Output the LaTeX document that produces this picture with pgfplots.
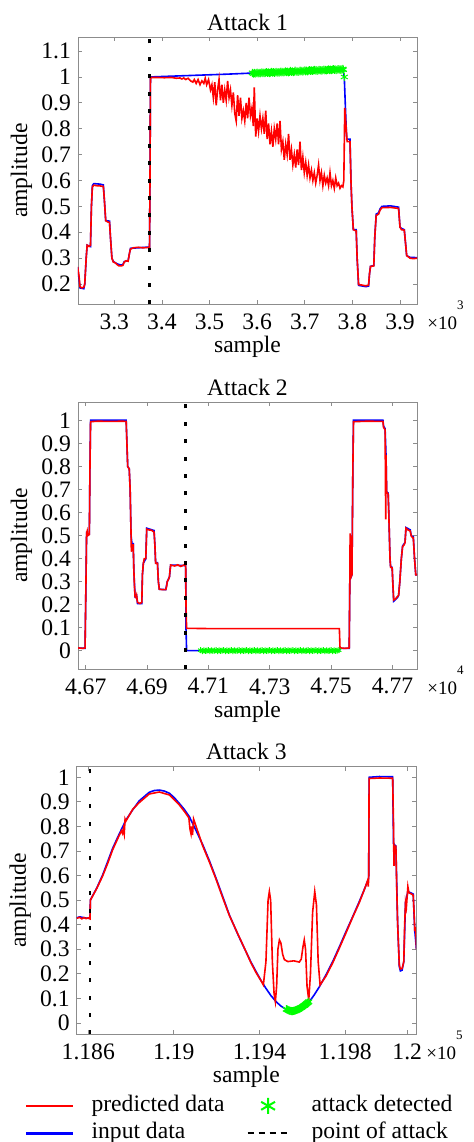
\documentclass[border=0pt]{standalone}
\usepackage{pgfplots}
\pgfplotsset{compat=1.18}
\usepackage{fontspec}
\setmainfont{Liberation Serif}

\newcommand{\lbl}{\fontsize{11.8}{13.5}\selectfont}

\pgfplotsset{
  attackax/.style={
    scale only axis,
    width=169.5pt, height=133.6pt,
    font=\lbl,
    axis line style={black!45},
    every tick/.style={black!45, line width=0.4pt},
    major tick length=2pt,
    tick align=inside,
    xtick pos=both, ytick pos=both,
    xticklabel pos=bottom, yticklabel pos=left,
    scaled x ticks=false,
    /pgf/number format/assume math mode=true,
    tick label style={font=\lbl},
    xticklabel style={yshift=-1pt},
    every axis title shift=0pt,
    title style={font=\lbl, anchor=base, at={(axis description cs:0.5,1)}, yshift=3.5pt, inner sep=0pt},
    xlabel style={font=\lbl, anchor=base, at={(axis description cs:0.5,0)}, yshift=-24pt, inner sep=0pt},
    ylabel style={font=\lbl, anchor=base, at={(axis description cs:-0.150,0.5)}, inner sep=0pt},
    xlabel={sample}, ylabel={amplitude},
  },
  pred/.style={red, line width=0.8pt},
  inp/.style={blue, line width=0.8pt},
  det/.style={green, only marks, mark=asterisk, mark size=2pt, line width=0.5pt},
  poa/.style={black, line width=1.2pt, dash pattern=on 2pt off 6.7pt},
  leglong/.style={legend image code/.code={\draw[##1] (0pt,0pt) -- (23.5pt,0pt);}},
  legshort/.style={legend image code/.code={\draw[##1] (0pt,0pt) -- (20.5pt,0pt);}},
  legmark/.style={legend image code/.code={\draw[##1] plot coordinates {(10.25pt,0pt)};}},
}

\newcommand{\tenpow}[1]{\node[font=\fontsize{9.5}{11}\selectfont, anchor=base west, inner sep=0pt] at ([xshift=5pt,yshift=-12.8pt]rel axis cs:1,0) {×10\raisebox{10pt}{\fontsize{6.5}{7}\selectfont #1}};}

\begin{document}
\begin{tikzpicture}
\useasboundingbox (0,0) rectangle (237pt,-571pt);

% ---------------- Attack 1
\begin{axis}[attackax,
  at={(39pt,-152.15pt)}, anchor=south west,
  title={Attack 1},
  xmin=3223.8, xmax=3935.7, ymin=0.1217, ymax=1.1539,
  xtick={3300,3400,3500,3600,3700,3800,3900},
  xticklabels={3.3,3.4,3.5,3.6,3.7,3.8,3.9},
  ytick={0.2,0.3,0.4,0.5,0.6,0.7,0.8,0.9,1,1.1},
  after end axis/.code={\tenpow{3}},
]
\addplot[inp] table {
3223 0.265
3226 0.22
3228 0.185
3236 0.182
3238 0.20
3241 0.30
3243 0.35
3250 0.345
3252 0.50
3254 0.58
3257 0.588
3270 0.586
3277 0.583
3279 0.53
3282 0.445
3290 0.443
3292 0.38
3295 0.30
3298 0.287
3306 0.278
3314 0.273
3318 0.275
3321 0.287
3329 0.29
3332 0.32
3334 0.338
3374 0.343
3375 0.6
3376 1.0
3420 1.003
3480 1.007
3540 1.011
3590 1.015
3640 1.019
3700 1.024
3780 1.029
3783 1.0
3785 0.90
3788 0.76
3795 0.76
3797 0.60
3799 0.50
3802 0.41
3808 0.41
3810 0.30
3813 0.195
3828 0.19
3834 0.192
3836 0.24
3838 0.268
3845 0.272
3847 0.38
3850 0.47
3855 0.475
3858 0.49
3862 0.50
3880 0.502
3897 0.497
3900 0.42
3903 0.415
3909 0.41
3912 0.35
3914 0.31
3921 0.303
3936 0.302
};
\addplot[pred] table {
3223 0.267
3226 0.23
3228 0.19
3232 0.185
3236 0.188
3238 0.20
3241 0.30
3243 0.35
3247 0.345
3250 0.35
3252 0.50
3254 0.575
3257 0.582
3262 0.58
3270 0.579
3277 0.577
3279 0.53
3282 0.445
3286 0.44
3290 0.438
3292 0.38
3295 0.30
3298 0.285
3302 0.282
3306 0.275
3310 0.27
3314 0.27
3318 0.272
3321 0.285
3325 0.29
3329 0.288
3332 0.32
3334 0.335
3340 0.34
3350 0.342
3360 0.34
3370 0.341
3374 0.342
3375 0.6
3376 0.998
3390 0.998
3405 0.997
3420 0.998
3430 0.995
3438 0.996
3442 0.992
3446 0.996
3450 0.99
3455 0.995
3460 0.985
3465 0.98
3468 0.99
3472 0.975
3476 0.99
3480 0.97
3484 0.985
3488 0.975
3491 0.995
3494 0.97
3498 0.99
3502 0.95
3505 0.97
3508 0.92
3511 0.98
3514 0.89
3517 0.95
3520 0.99
3523 0.91
3526 0.97
3529 0.90
3532 0.95
3535 0.91
3538 0.985
3541 0.92
3544 0.95
3547 0.89
3550 0.94
3553 0.86
3556 0.83
3559 0.93
3562 0.85
3565 0.92
3568 0.84
3571 0.87
3574 0.83
3577 0.90
3580 0.84
3583 0.92
3586 0.85
3589 0.88
3592 0.81
3594 0.96
3597 0.77
3600 0.84
3603 0.79
3606 0.85
3609 0.80
3612 0.84
3615 0.78
3618 0.87
3621 0.76
3624 0.82
3627 0.74
3630 0.79
3633 0.73
3636 0.80
3639 0.76
3642 0.82
3645 0.74
3648 0.83
3651 0.72
3654 0.75
3657 0.68
3660 0.74
3663 0.70
3666 0.78
3669 0.68
3672 0.72
3675 0.66
3678 0.70
3681 0.65
3684 0.72
3687 0.66
3690 0.75
3693 0.64
3696 0.69
3699 0.63
3702 0.67
3705 0.62
3708 0.66
3711 0.61
3714 0.64
3717 0.60
3720 0.63
3723 0.59
3726 0.62
3729 0.66
3732 0.60
3735 0.63
3738 0.58
3741 0.62
3744 0.59
3747 0.61
3750 0.58
3753 0.63
3756 0.58
3759 0.60
3762 0.57
3765 0.61
3768 0.58
3771 0.59
3774 0.57
3777 0.58
3780 0.575
3782 0.60
3784 0.88
3787 0.80
3789 0.75
3795 0.75
3797 0.60
3799 0.50
3802 0.41
3808 0.405
3810 0.30
3813 0.198
3820 0.196
3828 0.193
3834 0.196
3836 0.24
3838 0.268
3845 0.27
3847 0.38
3850 0.465
3855 0.47
3858 0.485
3862 0.495
3880 0.496
3897 0.492
3900 0.42
3903 0.41
3909 0.408
3912 0.35
3914 0.31
3921 0.30
3928 0.298
3936 0.30
};
\addplot[det] table {
3590 1.016
3592 1.013
3594 1.016
3596 1.013
3598 1.015
3600 1.017
3602 1.014
3604 1.016
3606 1.014
3608 1.016
3610 1.018
3612 1.015
3614 1.017
3616 1.015
3618 1.017
3620 1.019
3622 1.016
3624 1.018
3626 1.015
3628 1.017
3630 1.020
3632 1.017
3634 1.019
3636 1.016
3638 1.018
3640 1.020
3642 1.017
3644 1.019
3646 1.017
3648 1.019
3650 1.021
3652 1.018
3654 1.020
3656 1.018
3658 1.020
3660 1.022
3662 1.019
3664 1.021
3666 1.018
3668 1.020
3670 1.023
3672 1.020
3674 1.022
3676 1.019
3678 1.021
3680 1.024
3682 1.021
3684 1.022
3686 1.020
3688 1.022
3690 1.024
3692 1.022
3694 1.023
3696 1.021
3698 1.023
3700 1.025
3702 1.022
3704 1.024
3706 1.022
3708 1.024
3710 1.026
3712 1.023
3714 1.025
3716 1.023
3718 1.025
3720 1.027
3722 1.024
3724 1.026
3726 1.023
3728 1.025
3730 1.027
3732 1.025
3734 1.026
3736 1.024
3738 1.026
3740 1.028
3742 1.025
3744 1.027
3746 1.025
3748 1.027
3750 1.029
3752 1.026
3754 1.028
3756 1.026
3758 1.028
3760 1.030
3762 1.027
3764 1.029
3766 1.026
3768 1.028
3770 1.030
3772 1.028
3774 1.029
3776 1.027
3778 1.029
3780 1.031
3781 1.028
3783 1.000
};
\addplot[poa] coordinates {(3374,0.1217) (3374,1.1539)};
\end{axis}

% ---------------- Attack 2
\begin{axis}[attackax,
  at={(39pt,-334.65pt)}, anchor=south west,
  title={Attack 2},
  xmin=46675, xmax=47780, ymin=-0.081, ymax=1.08,
  xtick={46700,46900,47100,47300,47500,47700},
  xticklabels={4.67,4.69,4.71,4.73,4.75,4.77},
  ytick={0,0.1,0.2,0.3,0.4,0.5,0.6,0.7,0.8,0.9,1},
  after end axis/.code={\tenpow{4}},
]
\addplot[inp] table {
46675 0.012
46698 0.010
46701 0.30
46703 0.51
46707 0.505
46712 0.505
46714 0.80
46716 1.002
46832 1.002
46834 0.92
46837 0.80
46842 0.79
46845 0.70
46848 0.50
46851 0.465
46855 0.465
46857 0.35
46861 0.235
46866 0.24
46869 0.205
46883 0.205
46885 0.33
46888 0.38
46896 0.40
46899 0.532
46923 0.522
46926 0.45
46928 0.382
46934 0.382
46937 0.30
46940 0.267
46961 0.265
46966 0.30
46973 0.32
46977 0.372
47026 0.37
47027 0.10
47029 0.0
47527 0.0
47529 0.010
47559 0.010
47561 0.30
47564 0.40
47565 0.32
47568 0.33
47571 0.80
47573 1.002
47669 1.002
47671 0.975
47676 0.965
47679 0.85
47681 0.69
47686 0.685
47688 0.60
47692 0.40
47694 0.365
47699 0.362
47701 0.30
47704 0.215
47716 0.23
47720 0.24
47724 0.30
47729 0.40
47733 0.455
47741 0.47
47744 0.535
47758 0.525
47761 0.50
47768 0.495
47772 0.40
47776 0.33
47781 0.33
};
\addplot[pred] table {
46675 0.012
46690 0.010
46698 0.012
46701 0.30
46703 0.51
46705 0.52
46707 0.50
46712 0.505
46714 0.80
46716 0.995
46740 0.997
46780 0.996
46820 0.997
46832 0.996
46834 0.92
46837 0.80
46842 0.79
46845 0.70
46848 0.50
46849 0.43
46851 0.46
46855 0.46
46857 0.35
46859 0.28
46861 0.235
46864 0.23
46866 0.24
46869 0.21
46877 0.205
46883 0.21
46885 0.33
46888 0.38
46891 0.40
46896 0.40
46899 0.528
46905 0.525
46915 0.523
46923 0.515
46926 0.45
46928 0.38
46934 0.38
46937 0.30
46940 0.267
46950 0.265
46961 0.265
46964 0.28
46966 0.30
46970 0.31
46973 0.32
46975 0.35
46977 0.372
46990 0.368
47000 0.373
47010 0.366
47020 0.372
47026 0.37
47027 0.20
47029 0.097
47100 0.096
47300 0.096
47527 0.096
47529 0.012
47545 0.010
47559 0.012
47561 0.30
47562 0.51
47564 0.40
47565 0.32
47568 0.33
47571 0.80
47573 0.995
47620 0.997
47669 0.996
47671 0.97
47676 0.96
47678 0.57
47679 0.85
47681 0.69
47686 0.68
47688 0.60
47692 0.40
47694 0.362
47699 0.36
47701 0.30
47704 0.22
47710 0.225
47716 0.235
47720 0.24
47724 0.30
47729 0.40
47733 0.452
47738 0.46
47741 0.47
47744 0.532
47750 0.525
47758 0.52
47761 0.50
47766 0.49
47768 0.49
47772 0.40
47776 0.33
47781 0.33
};
\addplot[det, mark size=1.5pt] table {
47075 0.002
47080 -0.002
47085 0.001
47090 -0.001
47095 0.000
47100 0.002
47105 -0.002
47110 0.001
47115 -0.001
47120 0.000
47125 0.002
47130 -0.002
47135 0.001
47140 -0.001
47145 0.000
47150 0.002
47155 -0.002
47160 0.001
47165 -0.001
47170 0.000
47175 0.002
47180 -0.002
47185 0.001
47190 -0.001
47195 0.000
47200 0.002
47205 -0.002
47210 0.001
47215 -0.001
47220 0.000
47225 0.002
47230 -0.002
47235 0.001
47240 -0.001
47245 0.000
47250 0.002
47255 -0.002
47260 0.001
47265 -0.001
47270 0.000
47275 0.002
47280 -0.002
47285 0.001
47290 -0.001
47295 0.000
47300 0.002
47305 -0.002
47310 0.001
47315 -0.001
47320 0.000
47325 0.002
47330 -0.002
47335 0.001
47340 -0.001
47345 0.000
47350 0.002
47355 -0.002
47360 0.001
47365 -0.001
47370 0.000
47375 0.002
47380 -0.002
47385 0.001
47390 -0.001
47395 0.000
47400 0.002
47405 -0.002
47410 0.001
47415 -0.001
47420 0.000
47425 0.002
47430 -0.002
47435 0.001
47440 -0.001
47445 0.000
47450 0.002
47455 -0.002
47460 0.001
47465 -0.001
47470 0.000
47475 0.002
47480 -0.002
47485 0.001
47490 -0.001
47495 0.000
47500 0.002
47505 -0.002
47510 0.001
47515 -0.001
47520 0.000
47525 0.002
};
\addplot[poa] coordinates {(47026,-0.081) (47026,1.08)};
\end{axis}

% ---------------- Attack 3
\begin{axis}[attackax,
  at={(38.35pt,-517.15pt)}, anchor=south west,
  width=169.65pt, height=133.8pt,
  title={Attack 3},
  xmin=118546, xmax=120131, ymin=-0.046, ymax=1.043,
  xtick={118600,119000,119400,119800,120090},
  xticklabels={1.186,1.19,1.194,1.198,1.2},
  ytick={0,0.1,0.2,0.3,0.4,0.5,0.6,0.7,0.8,0.9,1},
  after end axis/.code={\tenpow{5}},
  legend columns=2,
  legend style={draw=none, fill=none, inner sep=0pt, outer sep=0pt,
    at={(axis description cs:-0.1524,-0.228)}, anchor=north west,
    font=\lbl,
    nodes={inner sep=0pt, text height=8pt, text depth=2.5pt},
    cells={anchor=west},
    row sep=3.2pt,
    /tikz/column 1/.style={column sep=8.5pt},
    /tikz/column 2/.style={column sep=11pt},
    /tikz/column 3/.style={column sep=11pt}},
]
\addlegendimage{red, line width=1.3pt, leglong}
\addlegendentry{predicted data}
\addlegendimage{green, only marks, mark=asterisk, mark size=4pt, line width=1pt, legmark}
\addlegendentry{attack detected}
\addlegendimage{blue, line width=1.3pt, leglong}
\addlegendentry{input data}
\addlegendimage{black, line width=1pt, dash pattern=on 3pt off 2.5pt, legshort}
\addlegendentry{point of attack}

\addplot[inp, forget plot] table {
118546 0.428
118560 0.432
118590 0.427
118608 0.426
118610 0.501
118640 0.550
118667 0.602
118690 0.655
118714 0.711
118745 0.770
118776 0.826
118808 0.868
118838 0.904
118885 0.939
118908 0.946
118932 0.948
118955 0.944
118979 0.935
119002 0.917
119025 0.894
119048 0.870
119072 0.840
119100 0.790
119135 0.725
119166 0.660
119197 0.589
119228 0.515
119259 0.440
119298 0.362
119337 0.290
119360 0.248
119384 0.209
119407 0.173
119430 0.141
119453 0.112
119477 0.087
119500 0.069
119524 0.0556
119540 0.049
119555 0.046
119575 0.051
119594 0.060
119613 0.072
119633 0.087
119656 0.115
119680 0.148
119711 0.197
119742 0.250
119773 0.310
119804 0.372
119835 0.432
119866 0.494
119888 0.540
119910 0.589
119912 1.0
119960 1.003
120022 1.002
120026 0.73
120037 0.72
120045 0.41
120053 0.23
120058 0.212
120066 0.215
120074 0.25
120082 0.49
120093 0.535
120118 0.525
120125 0.38
120133 0.30
};
\addplot[pred, forget plot] table {
118546 0.426
118560 0.430
118570 0.424
118580 0.429
118590 0.425
118600 0.428
118608 0.424
118610 0.500
118640 0.548
118667 0.598
118690 0.648
118714 0.705
118740 0.755
118755 0.782
118760 0.772
118764 0.790
118768 0.770
118772 0.830
118776 0.822
118808 0.870
118838 0.897
118885 0.932
118932 0.940
118979 0.928
119025 0.888
119050 0.860
119070 0.835
119075 0.790
119080 0.770
119083 0.800
119087 0.765
119092 0.830
119135 0.720
119166 0.655
119197 0.585
119228 0.510
119259 0.438
119300 0.360
119337 0.290
119360 0.245
119384 0.205
119405 0.175
119418 0.155
119430 0.250
119440 0.500
119446 0.535
119452 0.500
119460 0.250
119468 0.120
119474 0.087
119480 0.150
119486 0.300
119493 0.338
119500 0.325
119508 0.280
119516 0.258
119532 0.250
119560 0.253
119586 0.248
119595 0.260
119603 0.310
119609 0.338
119615 0.300
119622 0.150
119630 0.094
119638 0.200
119648 0.450
119658 0.535
119666 0.480
119674 0.250
119683 0.155
119710 0.190
119742 0.245
119773 0.305
119804 0.367
119835 0.430
119866 0.490
119895 0.555
119905 0.580
119908 0.555
119910 0.590
119912 0.995
119960 0.997
120022 0.996
120026 0.80
120028 0.64
120030 0.72
120037 0.72
120041 0.55
120045 0.41
120050 0.30
120053 0.236
120058 0.22
120066 0.222
120070 0.235
120074 0.25
120078 0.40
120082 0.49
120086 0.47
120093 0.555
120098 0.53
120110 0.525
120118 0.52
120122 0.45
120125 0.38
120130 0.385
120133 0.30
};
\addplot[det, forget plot] table {
119525 0.056
119528 0.055
119531 0.054
119534 0.052
119537 0.051
119540 0.050
119543 0.049
119546 0.049
119549 0.048
119552 0.048
119555 0.048
119558 0.049
119561 0.049
119564 0.050
119567 0.051
119570 0.052
119573 0.053
119576 0.054
119579 0.055
119582 0.056
119585 0.057
119588 0.059
119591 0.061
119594 0.062
119597 0.064
119600 0.066
119603 0.068
119606 0.070
119609 0.071
119612 0.073
119615 0.075
119618 0.078
119621 0.080
119624 0.082
119627 0.084
119630 0.087
};
\addplot[poa, forget plot] coordinates {(118609,-0.046) (118609,1.043)};
\end{axis}
\end{tikzpicture}
\end{document}
